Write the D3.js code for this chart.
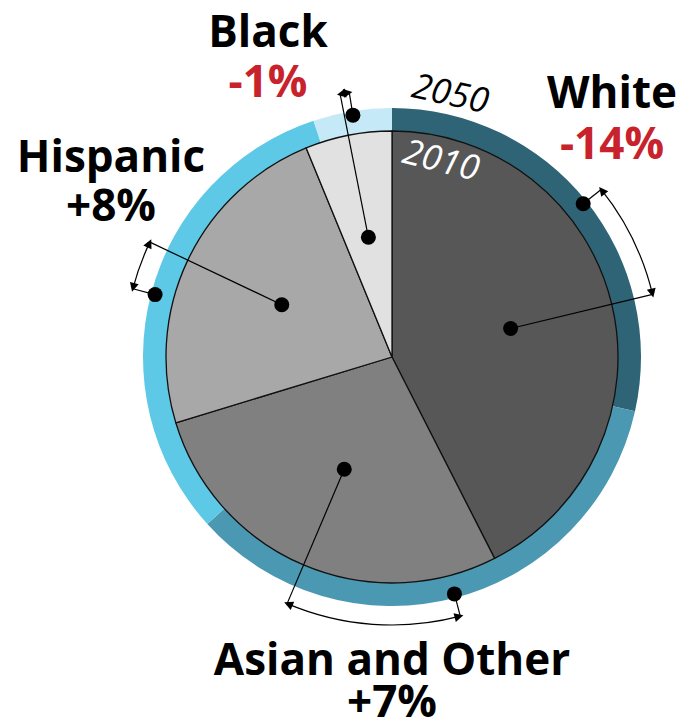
<!DOCTYPE html>
<html>
<head>
<meta charset="utf-8">
<script src="https://cdn.jsdelivr.net/npm/d3@7/dist/d3.min.js"></script>
<style>
  html, body { margin: 0; padding: 0; background: #fff; }
  svg { display: block; }
</style>
</head>
<body>
<svg id="chart" width="685" height="727"></svg>
<script>
// ---- data ----
const categories = ["White", "Asian and Other", "Hispanic", "Black"];
const share2010 = [42.5, 27.8, 23.5, 6.2];
const share2050 = [28.5, 34.8, 31.6, 5.1];
const changeLabels = ["-14%", "+7%", "+8%", "-1%"];
const yearLabels = ["2050", "2010"];

// ---- styles / layout ----
const pieColors = ["#575757", "#808080", "#a8a8a8", "#e1e1e1"];
const ringColors = ["#2f6477", "#4a98b2", "#5ec9e6", "#c6e9f7"];
const changeColors = ["#c8232c", "#000", "#000", "#c8232c"];
// label anchor positions (centre x, name baseline, change baseline)
const labelLayout = [
  { x: 612, y1: 108, y2: 159 },
  { x: 392, y1: 675, y2: 717 },
  { x: 111, y1: 172, y2: 221 },
  { x: 268, y1: 47, y2: 97 }
];

const cx = 392, cy = 357;
const rPie = 226, rRingIn = 224, rRingOut = 249;
const rRingDot = 245, rBracket = 268, rInnerDot = 122;

const svg = d3.select("#chart");
const g = svg.append("g").attr("transform", `translate(${cx},${cy})`);

const pie = d3.pie().sort(null).value(d => d);
const arcs2010 = pie(share2010);
const arcs2050 = pie(share2050);

// outer ring (2050)
const ringArc = d3.arc().innerRadius(rRingIn).outerRadius(rRingOut);
g.selectAll("path.ring").data(arcs2050).join("path")
  .attr("class", "ring")
  .attr("d", ringArc)
  .attr("fill", (d, i) => ringColors[i]);

// pie (2010)
const pieArc = d3.arc().innerRadius(0).outerRadius(rPie);
g.selectAll("path.slice").data(arcs2010).join("path")
  .attr("class", "slice")
  .attr("d", pieArc)
  .attr("fill", (d, i) => pieColors[i])
  .attr("stroke", "#111")
  .attr("stroke-width", 1.3)
  .attr("stroke-linejoin", "round");

const mid = d => (d.startAngle + d.endAngle) / 2;
const pt = (a, r) => [Math.sin(a) * r, -Math.cos(a) * r];

// annotations: bracket from 2050 mid-angle to 2010 mid-angle
const ann = g.append("g");
categories.forEach((c, i) => {
  const a10 = mid(arcs2010[i]);
  const a50 = mid(arcs2050[i]);
  const lo = Math.min(a10, a50), hi = Math.max(a10, a50);
  const bracket = d3.arc().innerRadius(rBracket).outerRadius(rBracket)
    .startAngle(lo).endAngle(hi);
  ann.append("path").attr("d", bracket())
    .attr("fill", "none").attr("stroke", "#000").attr("stroke-width", 1.2);
  const p1 = pt(a50, rRingDot), p2 = pt(a50, rBracket);
  ann.append("line").attr("x1", p1[0]).attr("y1", p1[1]).attr("x2", p2[0]).attr("y2", p2[1])
    .attr("stroke", "#000").attr("stroke-width", 1.2);
  const q1 = pt(a10, rBracket), q2 = pt(a10, rInnerDot);
  ann.append("line").attr("x1", q1[0]).attr("y1", q1[1]).attr("x2", q2[0]).attr("y2", q2[1])
    .attr("stroke", "#000").attr("stroke-width", 1.2);
  [[lo, -1], [hi, 1]].forEach(([a, dir]) => {
    const tip = pt(a + dir * 0.012, rBracket);
    const tx = Math.cos(a) * dir, ty = Math.sin(a) * dir;
    const nx = Math.sin(a), ny = -Math.cos(a);
    const L = 9, Wd = 4.5;
    const bx = tip[0] - tx * L, by = tip[1] - ty * L;
    ann.append("path")
      .attr("d", `M${tip[0]},${tip[1]}L${bx + nx * Wd},${by + ny * Wd}L${bx - nx * Wd},${by - ny * Wd}Z`)
      .attr("fill", "#000");
  });
  ann.append("circle").attr("cx", p1[0]).attr("cy", p1[1]).attr("r", 7.5).attr("fill", "#000");
  ann.append("circle").attr("cx", q2[0]).attr("cy", q2[1]).attr("r", 7.5).attr("fill", "#000");
});

// year labels
const yr = g.append("g");
yr.append("g").attr("transform", "rotate(12.5)")
  .append("text").attr("x", 0).attr("y", -258)
  .attr("text-anchor", "middle")
  .attr("font-family", "Open Sans, sans-serif").attr("font-style", "italic")
  .attr("font-size", 35).attr("fill", "#000")
  .text(yearLabels[0]);
yr.append("g").attr("transform", "rotate(14)")
  .append("text").attr("x", 0).attr("y", -191)
  .attr("text-anchor", "middle")
  .attr("font-family", "Open Sans, sans-serif").attr("font-style", "italic")
  .attr("font-size", 35).attr("fill", "#fff")
  .text(yearLabels[1]);

// category labels (one text block per category, two lines)
const lab = svg.append("g")
  .attr("font-family", "Open Sans, sans-serif")
  .attr("font-weight", 700)
  .attr("font-size", 44)
  .attr("text-anchor", "middle");
categories.forEach((c, i) => {
  const L = labelLayout[i];
  const t = lab.append("text").attr("x", L.x).attr("y", L.y1);
  t.append("tspan").attr("x", L.x).attr("fill", "#000").text(c);
  t.append("tspan").attr("x", L.x).attr("dy", L.y2 - L.y1)
    .attr("fill", changeColors[i]).text(changeLabels[i]);
});
</script>
</body>
</html>
